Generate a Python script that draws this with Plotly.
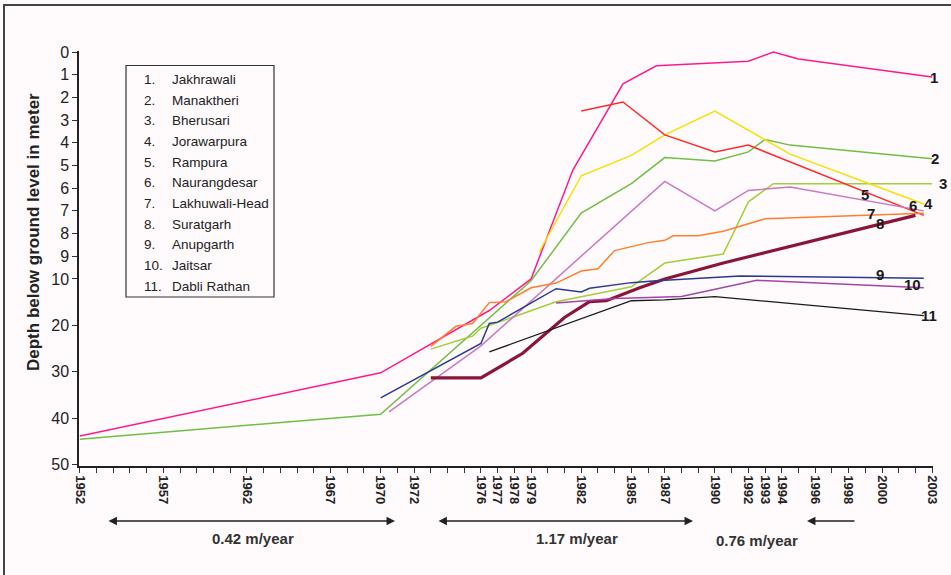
import numpy as np
import plotly.graph_objects as go

# station names, in legend order (numbers 1..11)
station_names = ["Jakhrawali", "Manaktheri", "Bherusari", "Jorawarpura", "Rampura",
                 "Naurangdesar", "Lakhuwali-Head", "Suratgarh", "Anupgarth", "Jaitsar",
                 "Dabli Rathan"]

# depth below ground level (m)
jakhrawali_yr = [1952, 1970, 1976.5, 1979, 1981.5, 1984.5, 1986.5, 1992, 1993.5, 1995, 2003]
jakhrawali_d = [43.8, 30.2, 16.8, 10.0, 5.2, 1.4, 0.6, 0.4, 0.0, 0.3, 1.1]

manaktheri_yr = [1952, 1970, 1979, 1982, 1985, 1987, 1990, 1992, 1993, 1994.5, 2003]
manaktheri_d = [44.5, 39.1, 10.4, 7.1, 5.8, 4.65, 4.8, 4.4, 3.85, 4.1, 4.7]

bherusari_yr = [1973, 1975.5, 1976, 1977, 1980.5, 1985, 1987, 1990.5, 1992, 1993.5, 2003]
bherusari_d = [25.1, 22.3, 20.6, 19.4, 14.9, 11.7, 9.3, 8.9, 6.6, 5.8, 5.8]

jorawarpura_yr = [1979.5, 1982, 1985, 1987, 1990, 1994.5, 2002.5]
jorawarpura_d = [8.8, 5.45, 4.55, 3.65, 2.6, 4.5, 6.7]

rampura_yr = [1982, 1984.5, 1987, 1990, 1992, 2002.5]
rampura_d = [2.6, 2.2, 3.65, 4.4, 4.1, 7.2]

naurangdesar_yr = [1970.5, 1976, 1987, 1990, 1992, 1994.5, 2002.5]
naurangdesar_d = [38.6, 24.4, 5.7, 7.0, 6.1, 5.95, 7.0]

lakhuwali_yr = [1973, 1974, 1974.5, 1975.5, 1976.5, 1977.5, 1979, 1980.5, 1982, 1983,
                1984, 1986, 1987, 1987.5, 1989, 1990.5, 1993, 2002.5]
lakhuwali_d = [24.5, 21.5, 20.2, 19.6, 15.1, 14.9, 11.9, 10.9, 9.65, 9.55,
               8.75, 8.4, 8.3, 8.1, 8.1, 7.9, 7.35, 7.1]

suratgarh_yr = [1973, 1976, 1978.5, 1981, 1982.5, 1983.5, 1985.5, 1987, 1990.5, 2002]
suratgarh_d = [31.3, 31.3, 26.0, 18.3, 14.9, 14.7, 11.9, 10.0, 9.3, 7.2]

anupgarth_yr = [1970, 1976, 1976.5, 1977, 1980.5, 1982, 1982.5, 1984, 1985, 1986.5, 1991.5, 2002.5]
anupgarth_d = [35.6, 23.9, 19.6, 19.3, 12.1, 12.8, 12.0, 11.3, 10.8, 10.4, 9.87, 9.97]

jaitsar_yr = [1980.5, 1984, 1988, 1992.5, 2002.5]
jaitsar_d = [15.2, 14.2, 13.8, 10.3, 11.9]

dabli_yr = [1976.5, 1985, 1987, 1990, 2002.5]
dabli_d = [25.7, 14.7, 14.5, 13.8, 17.9]

x_ticks = [1952, 1957, 1962, 1967, 1970, 1972, 1976, 1977, 1978, 1979, 1982, 1985,
           1987, 1990, 1992, 1993, 1994, 1996, 1998, 2000, 2003]
y_ticks = [0, 1, 2, 3, 4, 5, 6, 7, 8, 9, 10, 20, 30, 40, 50]

rates = ["0.42 m/year", "1.17 m/year", "0.76 m/year"]


def depth_axis(d):
    # broken scale: 0-10 m stretched, 10-50 m compressed
    d = np.asarray(d, dtype=float)
    return np.where(d <= 10, d, 10 + (d - 10) * 0.205)


series = [
    (jakhrawali_yr, jakhrawali_d, "#ff1a8c", 1.5),
    (manaktheri_yr, manaktheri_d, "#70bf45", 1.5),
    (bherusari_yr, bherusari_d, "#a2cf3c", 1.5),
    (jorawarpura_yr, jorawarpura_d, "#f7e000", 1.5),
    (rampura_yr, rampura_d, "#ff2a2a", 1.5),
    (naurangdesar_yr, naurangdesar_d, "#cc77c0", 1.5),
    (lakhuwali_yr, lakhuwali_d, "#ff7f2a", 1.5),
    (suratgarh_yr, suratgarh_d, "#8b1538", 3.2),
    (anupgarth_yr, anupgarth_d, "#2b3990", 1.5),
    (jaitsar_yr, jaitsar_d, "#a444a8", 1.5),
    (dabli_yr, dabli_d, "#1a1a1a", 1.3),
]

# where the number label sits relative to the end of each line (px, +down)
label_offsets = [(2, 0), (3, 0), (11, 0), (5, -1), (-59, -21), (-11, -5),
                 (-53, 0), (-35, 8), (-44, -4), (-11, -3), (5, 0)]

W, H = 951, 575
ML, MR, MT, MB = 79, 18, 51, 109
PW, PH = W - ML - MR, H - MT - MB


def px(x):
    return (x - ML) / PW


def py(y):
    return 1 - (y - MT) / PH


fig = go.Figure()
for yr, d, col, w in series:
    fig.add_trace(go.Scatter(x=yr, y=depth_axis(d), mode="lines",
                             line=dict(color=col, width=w), showlegend=False))

ann = []
for i, ((yr, d, col, w), (dx, dy)) in enumerate(zip(series, label_offsets)):
    ann.append(dict(x=yr[-1], y=float(depth_axis(d[-1:])[0]), xref="x", yref="y",
                    text=f"<b>{i + 1}</b>", showarrow=False, xshift=dx, yshift=-dy,
                    font=dict(family="Liberation Sans, Arial", size=15, color="#1a1a1a")))

# legend box with numbered names
for i, name in enumerate(station_names):
    yy = py(79.5 + i * 20.67)
    ann.append(dict(x=px(142), y=yy, xref="paper", yref="paper", text=f"{i + 1}.",
                    showarrow=False, xanchor="left", yanchor="middle",
                    font=dict(family="Liberation Sans, Arial", size=13.5, color="#222")))
    ann.append(dict(x=px(170), y=yy, xref="paper", yref="paper", text=name,
                    showarrow=False, xanchor="left", yanchor="middle",
                    font=dict(family="Liberation Sans, Arial", size=13.5, color="#222")))

# y title
ann.append(dict(x=px(33), y=py(232), xref="paper", yref="paper",
                text="<b>Depth below ground level in meter</b>", textangle=-90,
                xanchor="center", yanchor="middle",
                showarrow=False, font=dict(family="Liberation Sans, Arial", size=17, color="#222")))

# rate arrows
arrow_style = dict(xref="paper", yref="paper", text="", showarrow=True, arrowhead=2,
                   arrowsize=1.3, arrowwidth=1.3, arrowcolor="#222", ay=0,
                   standoff=0, startstandoff=0)
ann.append(dict(x=px(395), y=py(521), ax=-288, arrowside="end+start", **arrow_style))
ann.append(dict(x=px(693), y=py(521), ax=-256, arrowside="end+start", **arrow_style))
ann.append(dict(x=px(807), y=py(521), ax=49, arrowside="end", **arrow_style))
for (cx, cy), txt in zip([(253, 538), (577, 538), (757, 540)], rates):
    ann.append(dict(x=px(cx), y=py(cy), xref="paper", yref="paper", text=f"<b>{txt}</b>",
                    xanchor="center", yanchor="middle",
                    showarrow=False, font=dict(family="Liberation Sans, Arial", size=15, color="#333")))

shapes = [
    dict(type="rect", xref="paper", yref="paper", x0=px(126), x1=px(274),
         y0=py(297), y1=py(65.5), line=dict(color="#333", width=1.2)),
    dict(type="rect", xref="paper", yref="paper", x0=px(4), x1=px(965),
         y0=py(590), y1=py(5), line=dict(color="#444", width=2)),
]

fig.update_layout(
    width=W, height=H,
    margin=dict(l=ML, r=MR, t=MT, b=MB),
    paper_bgcolor="#fffbfd", plot_bgcolor="#fffbfd",
    annotations=ann, shapes=shapes,
    font=dict(family="Liberation Sans, Arial", color="#222"),
    xaxis=dict(range=[1951.95, 2003.05], tickmode="array", tickvals=x_ticks,
               ticktext=[f"<b>{t}</b>" for t in x_ticks], tickangle=90,
               tickfont=dict(size=13, color="#222"),
               showgrid=False, zeroline=False, showline=True, linecolor="#222", linewidth=1.5,
               ticks="outside", ticklen=5, tickcolor="#333",
               minor=dict(tickmode="linear", tick0=1952, dtick=1, ticks="outside",
                          ticklen=5, tickcolor="#333", showgrid=False)),
    yaxis=dict(range=[18.25, -0.05], tickmode="array",
               tickvals=depth_axis(y_ticks).tolist(), ticktext=[str(t) for t in y_ticks],
               tickfont=dict(size=16, color="#222"),
               showgrid=False, zeroline=False, showline=True, linecolor="#222", linewidth=1.5,
               ticks="outside", ticklen=5, tickcolor="#333"),
)

# the page has a default body margin; drop it so the figure sits at 0,0
fig.write_html("out.html", config={"displayModeBar": False},
               post_script="document.body.style.margin='0px';")
